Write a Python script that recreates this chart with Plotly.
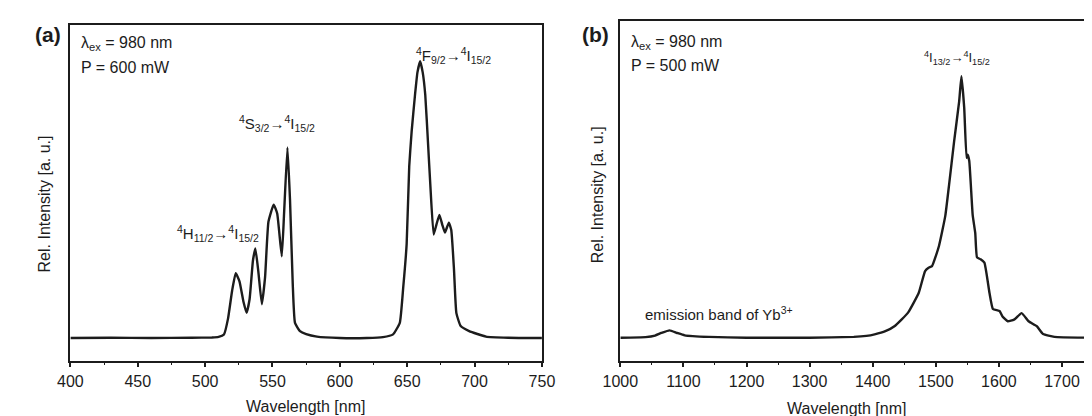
import plotly.graph_objects as go

# ---- data: panel (a) upconversion spectrum ----
wl_a = [400, 430, 460, 490, 505, 510, 514, 517, 520, 522.7, 525.5, 528.5, 530.8, 533, 535.5, 537.3,
        539.5, 542.1, 544.5, 547, 550.9, 553.5, 556.9, 558.6, 561.1, 563, 565, 566.7, 570.4, 575,
        583, 600, 620, 632, 639.5, 644.5, 647, 649.6, 651.5, 653.3, 655.8, 657.6, 659.6, 661.5,
        663.4, 665.5, 667.2, 669.6, 671.7, 673.9, 676, 678, 680.9, 682.7, 684.7, 686.5, 689.7,
        696, 708.5, 725, 750]
int_a = [0.0, 0.001, 0.0, 0.001, 0.002, 0.004, 0.013, 0.07, 0.17, 0.234, 0.205, 0.13, 0.091, 0.14,
         0.28, 0.324, 0.24, 0.122, 0.22, 0.42, 0.482, 0.45, 0.295, 0.45, 0.689, 0.5, 0.2, 0.055,
         0.025, 0.014, 0.005, 0.0, 0.0, 0.003, 0.013, 0.055, 0.18, 0.34, 0.62, 0.747, 0.879, 0.96,
         1.0, 0.96, 0.879, 0.7, 0.55, 0.374, 0.41, 0.445, 0.41, 0.381, 0.417, 0.39, 0.25, 0.09,
         0.043, 0.025, 0.005, 0.001, 0.0]

# ---- data: panel (b) NIR emission spectrum ----
wl_b = [1000, 1040, 1055, 1065, 1078, 1090, 1102, 1140, 1200, 1300, 1370, 1390, 1403, 1420, 1435,
        1456, 1473, 1483, 1488.6, 1494, 1505, 1515, 1521, 1529, 1537, 1540.6, 1545, 1548.7, 1550.5,
        1553, 1558.4, 1562.5, 1565.3, 1571, 1577, 1585, 1590.5, 1601, 1606, 1614, 1624, 1636, 1647,
        1660, 1670, 1688, 1740]
int_b = [0.0, 0.002, 0.008, 0.018, 0.028, 0.018, 0.009, 0.003, 0.0, 0.0, 0.003, 0.007, 0.013, 0.025,
         0.045, 0.096, 0.172, 0.255, 0.268, 0.274, 0.351, 0.466, 0.585, 0.751, 0.904, 1.0, 0.879,
         0.688, 0.70, 0.676, 0.47, 0.40, 0.307, 0.30, 0.287, 0.172, 0.11, 0.102, 0.08, 0.063, 0.069,
         0.094, 0.063, 0.044, 0.014, 0.003, 0.0]

W, H = 1092, 416
def px(x):
    return x / W
def py(y):
    return 1 - y / H

INK = "#1c1c1c"
FONT = "Liberation Sans, Arial, sans-serif"

fig = go.Figure()
fig.add_trace(go.Scatter(x=wl_a, y=int_a, mode="lines", xaxis="x", yaxis="y",
                         line=dict(color=INK, width=2.4, shape="spline", smoothing=0.4),
                         showlegend=False, hoverinfo="skip"))
fig.add_trace(go.Scatter(x=wl_b, y=int_b, mode="lines", xaxis="x2", yaxis="y2",
                         line=dict(color=INK, width=2.4, shape="spline", smoothing=0.4),
                         showlegend=False, hoverinfo="skip"))

axis_common = dict(showgrid=False, zeroline=False, showline=True, linecolor=INK, linewidth=1.5,
                   tickfont=dict(family=FONT, size=16, color=INK))

fig.update_layout(
    width=W, height=H,
    margin=dict(l=0, r=0, t=0, b=0),
    paper_bgcolor="white", plot_bgcolor="white",
    font=dict(family=FONT, color=INK, size=16),
    xaxis=dict(**axis_common, domain=[px(45.7), px(531)], range=[400, 750], anchor="y",
               tick0=400, dtick=50, ticks="outside", ticklen=5, tickwidth=1.5, tickcolor=INK,
               minor=dict(dtick=25, ticks="outside", ticklen=3, tickwidth=1.2, tickcolor=INK),
               mirror=True),
    yaxis=dict(**axis_common, domain=[py(352.7), py(17.3)], range=[-0.082, 1.130], anchor="x",
               showticklabels=False, ticks="", mirror=True),
    xaxis2=dict(**axis_common, domain=[px(611.7), 1.0], range=[1000, 1739.6], anchor="y2",
                tick0=1000, dtick=100, ticks="outside", ticklen=5, tickwidth=1.5, tickcolor=INK,
                minor=dict(dtick=50, ticks="outside", ticklen=3, tickwidth=1.2, tickcolor=INK),
                mirror=True),
    yaxis2=dict(**axis_common, domain=[py(352.7), py(13.3)], range=[-0.088, 1.2104], anchor="x2",
                showticklabels=False, ticks="", mirror=False),
)

def ann(text, x, y, size=16, xanchor="center", yanchor="middle", bold=False, angle=0):
    fig.add_annotation(text=("<b>%s</b>" % text) if bold else text,
                       x=px(x), y=py(y), xref="paper", yref="paper",
                       xanchor=xanchor, yanchor=yanchor, showarrow=False, textangle=angle,
                       font=dict(family=FONT, size=size, color=INK))

# panel labels
ann("(a)", 23, 27, size=21, bold=True)
ann("(b)", 586, 26, size=21, bold=True)

# axis titles
ann("Wavelength [nm]", 288, 398, size=16)
ann("Wavelength [nm]", 844, 400, size=16)
ann("Rel. Intensity [a. u.]", 19, 196, size=16, angle=-90)
ann("Rel. Intensity [a. u.]", 588, 187, size=16, angle=-90)

# excitation conditions
ann("λ<sub>ex</sub> = 980 nm", 55, 35, xanchor="left")
ann("P = 600 mW", 55, 60, xanchor="left")
ann("λ<sub>ex</sub> = 980 nm", 621, 34, xanchor="left")
ann("P = 500 mW", 621, 58, xanchor="left")

# transitions
ann("<sup>4</sup>F<sub>9/2</sub>→<sup>4</sup>I<sub>15/2</sub>", 440, 47, size=15)
ann("<sup>4</sup>S<sub>3/2</sub>→<sup>4</sup>I<sub>15/2</sub>", 258, 115, size=15)
ann("<sup>4</sup>H<sub>11/2</sub>→<sup>4</sup>I<sub>15/2</sub>", 198, 226, size=15)
ann("<sup>4</sup>I<sub>13/2</sub>→<sup>4</sup>I<sub>15/2</sub>", 958, 50, size=13)
ann("emission band of Yb<sup>3+</sup>", 635, 305, size=15, xanchor="left")

fig.write_html("out.html")
